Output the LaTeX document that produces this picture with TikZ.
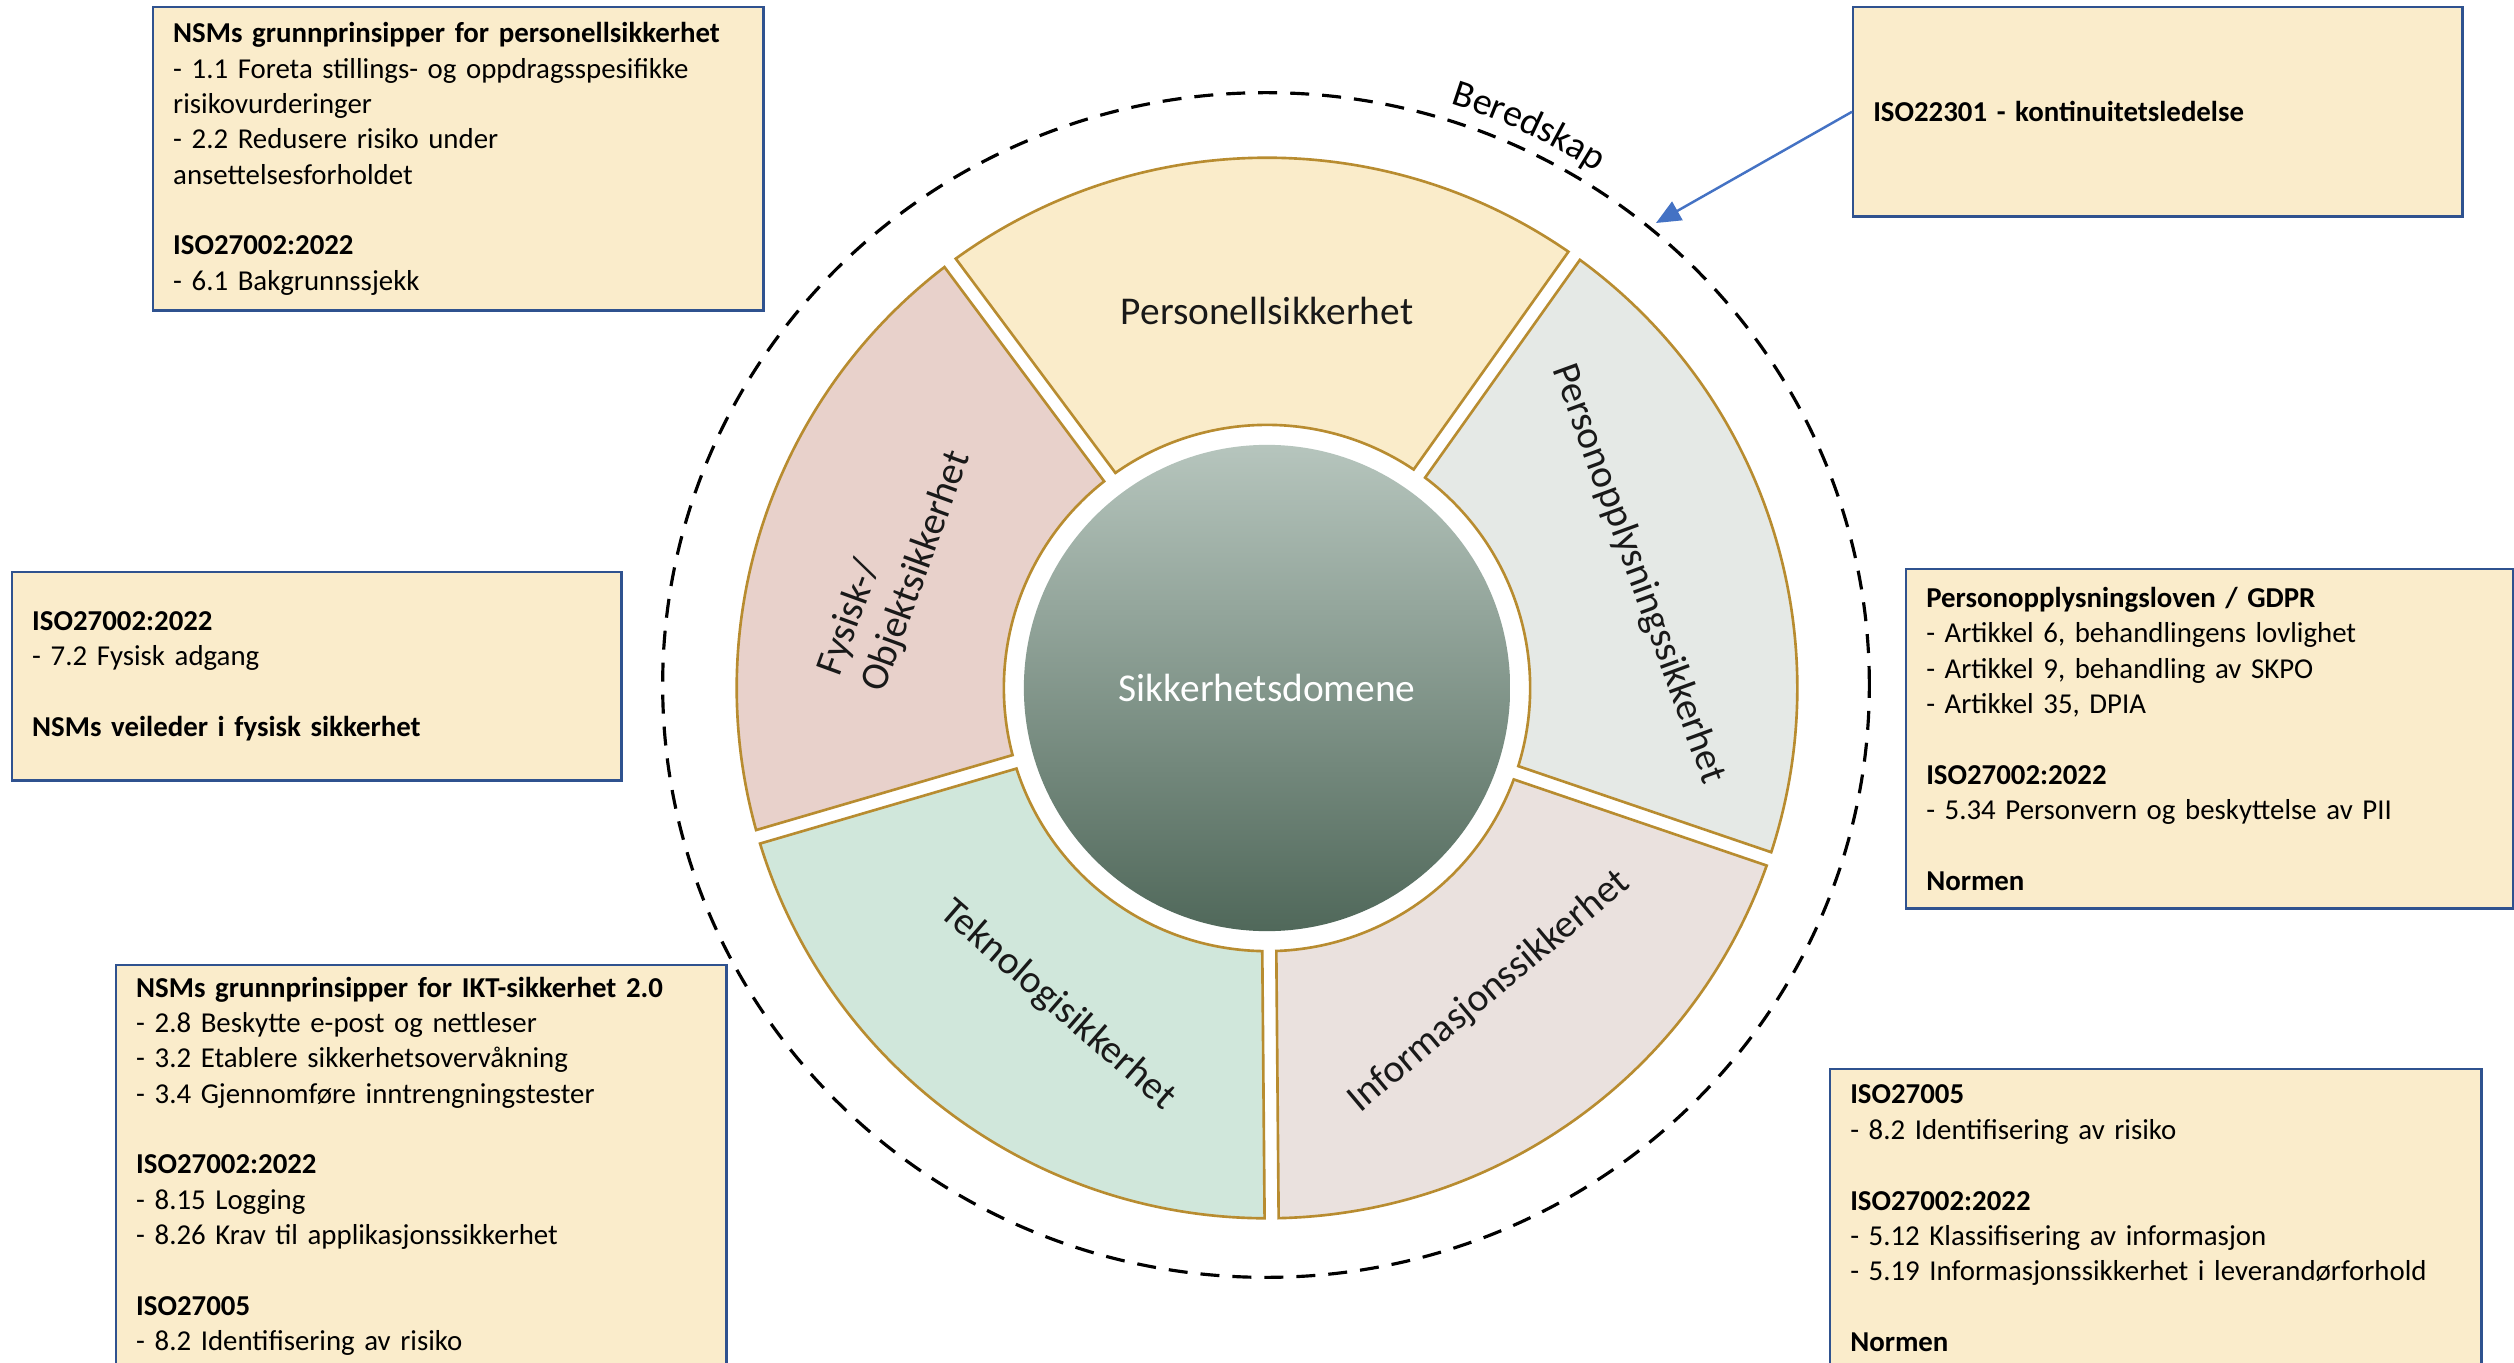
\documentclass[tikz,border=0pt]{standalone}
\usepackage{fontspec}
\setmainfont{Carlito}
\usetikzlibrary{arrows.meta,decorations.text,calc}
\definecolor{boxfill}{RGB}{250,236,203}
\definecolor{boxline}{RGB}{47,82,143}
\definecolor{segborder}{RGB}{184,140,48}
\definecolor{cpers}{RGB}{250,236,202}
\definecolor{cfys}{RGB}{232,209,203}
\definecolor{cpopl}{RGB}{229,233,230}
\definecolor{ctekn}{RGB}{208,231,219}
\definecolor{cinfo}{RGB}{234,225,222}
\definecolor{coretop}{RGB}{182,197,189}
\definecolor{corebot}{RGB}{80,104,90}
\definecolor{arrowblue}{RGB}{68,114,196}
\newcommand{\boxfont}{\fontsize{8.2}{10.05}\selectfont}
\newcommand{\segfont}{\fontsize{11.2}{13.4}\selectfont}
\newcommand{\berfont}{\fontsize{10.8}{13}\selectfont}
\newcommand{\wheelseg}[3]{%
  \pgfmathsetmacro\segoa{#1+0.76}\pgfmathsetmacro\segob{#2-0.76}%
  \pgfmathsetmacro\segia{#1+1.53}\pgfmathsetmacro\segib{#2-1.53}%
  \draw[segline, fill=#3] ([shift={(\segoa:5.30cm)}]C) arc[start angle=\segoa, end angle=\segob, radius=5.30cm]
    -- ([shift={(\segib:2.63cm)}]C) arc[start angle=\segib, end angle=\segia, radius=2.63cm] -- cycle;}
\tikzset{
  infobox/.style={draw=boxline, line width=0.7pt, fill=boxfill, anchor=north west,
    inner xsep=0.2cm, inner ysep=0pt, align=left, font=\boxfont, text=black},
  segline/.style={draw=segborder, line width=0.75pt},
  seglabel/.style={font=\segfont, inner sep=0pt, text=black!90},
  ringdash/.style={line width=0.9pt, dash pattern=on 5.4pt off 3.7pt},
  linkarrow/.style={draw=arrowblue, line width=0.7pt, -{Triangle[length=7pt,width=6pt,fill=arrowblue]}},
}
\begin{document}
\begin{tikzpicture}[x=0.01cm,y=0.01cm]
\useasboundingbox (0,0) rectangle (2514,1362);
\fill[white] (0,0) rectangle (2514,1362);
\clip (0,0) rectangle (2514,1362);
\coordinate (C) at (1267,674);
\coordinate (E) at (1266,677);
% outer dashed ring
\draw[ringdash] (E) ellipse[x radius=6.03cm, y radius=5.92cm];
\path[decorate, decoration={text along path, text={|\berfont|Beredskap}, text align=center}]
  ([shift={(73:6.12cm)}]C) arc[start angle=73, end angle=57, radius=6.12cm];
% wheel segments
\wheelseg{54.6}{126.7}{cpers}
\wheelseg{126.7}{196.3}{cfys}
\wheelseg{196.3}{270.5}{ctekn}
\wheelseg{270.5}{341.2}{cinfo}
\wheelseg{-18.8}{54.6}{cpopl}
% core
\node[circle, minimum size=4.86cm, inner sep=0pt, top color=coretop, bottom color=corebot,
  text=white, font=\segfont] (core) at (C) {Sikkerhetsdomene};
% segment labels
\node[seglabel] (lpers) at ([shift={(90:3.77cm)}]C) {Personellsikkerhet};
\node[seglabel, rotate=70, align=left] (lfys) at ([shift={(161.5:3.92cm)}]C) {Fysisk-/\\Objektsikkerhet};
\node[seglabel, rotate=-70] (lpopl) at ([shift={(17.1:3.88cm)}]C) {Personopplysningssikkerhet};
\node[seglabel, rotate=40] (linfo) at ([shift={(-53.8:3.76cm)}]C) {Informasjonssikkerhet};
\node[seglabel, rotate=-41] (ltekn) at ([shift={(236.6:3.80cm)}]C) {Teknologisikkerhet};
% info boxes
\node[infobox, text width=5.70cm, minimum height=3.03cm] (b1) at (152,1356) {%
\textbf{NSMs grunnprinsipper for personellsikkerhet}\\
- 1.1 Foreta stillings- og oppdragsspesifikke\\
risikovurderinger\\
- 2.2 Redusere risiko under\\
ansettelsesforholdet\\[10.05pt]
\textbf{ISO27002:2022}\\
- 6.1 Bakgrunnssjekk};
\node[infobox, text width=5.69cm, minimum height=2.09cm] (b2) at (1852,1356) {%
\textbf{ISO22301 - kontinuitetsledelse}};
\node[infobox, text width=5.69cm, minimum height=2.08cm] (b3) at (11,791) {%
\textbf{ISO27002:2022}\\
- 7.2 Fysisk adgang\\[10.05pt]
\textbf{NSMs veileder i fysisk sikkerhet}};
\node[infobox, text width=5.67cm, minimum height=3.39cm] (b4) at (1905,794) {%
\textbf{Personopplysningsloven / GDPR}\\
- Artikkel 6, behandlingens lovlighet\\
- Artikkel 9, behandling av SKPO\\
- Artikkel 35, DPIA\\[10.05pt]
\textbf{ISO27002:2022}\\
- 5.34 Personvern og beskyttelse av PII\\[10.05pt]
\textbf{Normen}};
\node[infobox, text width=5.70cm, minimum height=4.02cm] (b5) at (115,398) {%
\textbf{NSMs grunnprinsipper for IKT-sikkerhet 2.0}\\
- 2.8 Beskytte e-post og nettleser\\
- 3.2 Etablere sikkerhetsovervåkning\\
- 3.4 Gjennomføre inntrengningstester\\[10.05pt]
\textbf{ISO27002:2022}\\
- 8.15 Logging\\
- 8.26 Krav til applikasjonssikkerhet\\[10.05pt]
\textbf{ISO27005}\\
- 8.2 Identifisering av risiko};
\node[infobox, text width=6.11cm, minimum height=2.98cm] (b6) at (1829,294) {%
\textbf{ISO27005}\\
- 8.2 Identifisering av risiko\\[10.05pt]
\textbf{ISO27002:2022}\\
- 5.12 Klassifisering av informasjon\\
- 5.19 Informasjonssikkerhet i leverandørforhold\\[10.05pt]
\textbf{Normen}};
% connector
\coordinate (arrtip) at (1656,1139);
\draw[linkarrow] (b2.west) -- (arrtip);
\end{tikzpicture}
\end{document}
